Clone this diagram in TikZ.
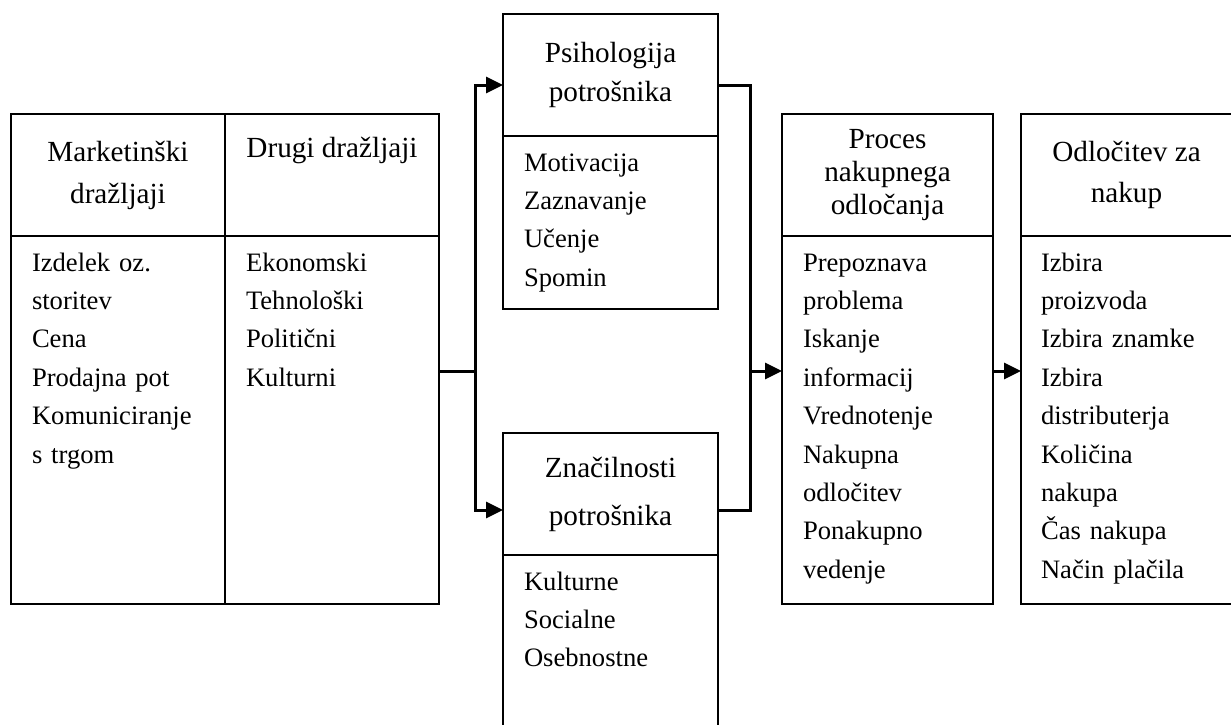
\documentclass[tikz,border=0pt]{standalone}
\usepackage{fontspec}
\setmainfont{Liberation Serif}
\usetikzlibrary{positioning,arrows.meta}

\begin{document}
\begin{tikzpicture}
		[x=1pt, y=-1pt,
		>={Triangle[length=17pt,width=16pt]},
		headnode/.style={rectangle, draw, line width=1.2pt, inner sep=0pt, outer sep=0pt, minimum width=#1, minimum height=122pt, align=center, font=\fontsize{29.2pt}{42pt}\selectfont},
		headnode/.default=214pt,
		bodynode/.style={rectangle, draw, line width=1.2pt, inner xsep=21pt, inner ysep=0pt, outer sep=0pt, text width=#1, align=left, text height=35pt, font=\fontsize{26.6pt}{38.4pt}\selectfont},
		bodynode/.default=172pt,
		conn/.style={line width=3pt},
		]
		\useasboundingbox (0,0) rectangle (1231,724);
		\clip (0,0) rectangle (1231,724);
		
		%Nodes
		\node[headnode, anchor=north west](markhead) at (11,114) {Marketinški\\dražljaji};
		\node[headnode](drugihead)[right=0pt of markhead] {Drugi dražljaji\\\strut};
		\node[bodynode, text depth=333pt](markbody)[below=0pt of markhead] {Izdelek oz.\\storitev\\Cena\\Prodajna pot\\Komuniciranje\\s trgom};
		\node[bodynode, text depth=333pt](drugibody)[below=0pt of drugihead] {Ekonomski\\Tehnološki\\Politični\\Kulturni};
		
		\node[headnode=215pt, anchor=north west, font=\fontsize{29.2pt}{39pt}\selectfont](psihead) at (503,14) {Psihologija\\potrošnika};
		\node[bodynode=173pt, text depth=138pt](psibody)[below=0pt of psihead] {Motivacija\\Zaznavanje\\Učenje\\Spomin};
		\node[headnode=215pt, anchor=north west, font=\fontsize{29.2pt}{48pt}\selectfont](znahead) at (503,433) {Značilnosti\\potrošnika};
		\node[bodynode=173pt, text depth=180pt](znabody)[below=0pt of znahead] {Kulturne\\Socialne\\Osebnostne};
		
		\node[headnode=211pt, anchor=north west, font=\fontsize{29.2pt}{33pt}\selectfont](prochead) at (782,114) {Proces\\nakupnega\\odločanja};
		\node[bodynode=169pt, text depth=333pt](procbody)[below=0pt of prochead] {Prepoznava\\problema\\Iskanje\\informacij\\Vrednotenje\\Nakupna\\odločitev\\Ponakupno\\vedenje};
		\node[headnode=211pt, anchor=north west, font=\fontsize{29.2pt}{41pt}\selectfont](odlhead) at (1021,114) {Odločitev za\\nakup};
		\node[bodynode=171pt, inner xsep=20pt, text depth=333pt](odlbody)[below=0pt of odlhead] {Izbira\\proizvoda\\Izbira znamke\\Izbira\\distributerja\\Količina\\nakupa\\Čas nakupa\\Način plačila};
		
		\coordinate (split) at (475,371);
		\coordinate (join) at (750,371);
		
		%Lines
		\draw[conn](split -| drugibody.east) -- (split);
		\draw[conn,->](split) |- ([yshift=-10pt]psihead.west);
		\draw[conn,->](split) |- ([yshift=-16pt]znahead.west);
		\draw[conn]([yshift=-10pt]psihead.east) -| (join);
		\draw[conn]([yshift=-16pt]znahead.east) -| (join);
		\draw[conn,->](join) -- (join -| procbody.west);
		\draw[conn,->](procbody.east |- split) -- (odlbody.west |- split);
	\end{tikzpicture}
\end{document}
